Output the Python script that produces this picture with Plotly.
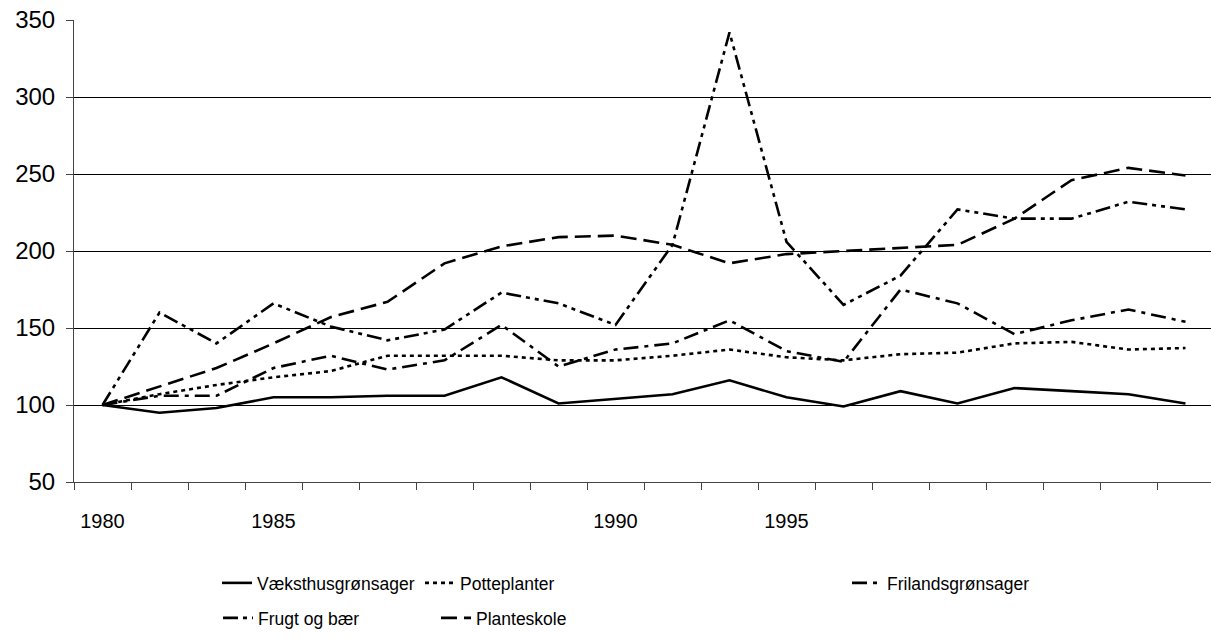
import numpy as np
import plotly.graph_objects as go

# Index numbers (1980 = 100), one value per period
x_labels = ["1980", "", "", "1985", "", "", "", "", "", "1990",
            "", "", "1995", "", "", "", "", "", "", ""]

vaeksthus = [100, 95, 98, 105, 105, 106, 106, 118, 101, 104,
             107, 116, 105, 99, 109, 101, 111, 109, 107, 101]
potteplanter = [100, 107, 113, 118, 122, 132, 132, 132, 129, 129,
                132, 136, 131, 129, 133, 134, 140, 141, 136, 137]
friland = [100, 106, 106, 124, 132, 123, 129, 152, 125, 136,
           140, 155, 135, 128, 175, 166, 146, 155, 162, 154]
frugt = [100, 160, 140, 166, 151, 142, 149, 173, 166, 152,
         204, 342, 206, 165, 184, 227, 221, 221, 232, 227]
planteskole = [100, 112, 124, 140, 157, 167, 192, 203, 209, 210,
               204, 192, 198, 200, 202, 204, 221, 246, 254, 249]

names = ["Væksthusgrønsager", "Potteplanter", "Frilandsgrønsager",
         "Frugt og bær", "Planteskole"]
series = [vaeksthus, potteplanter, friland, frugt, planteskole]
dashes = ["solid", "4px,4px", "15px,6px,4px,6px",
          "15px,5px,4px,5px,4px,5px", "16px,7px"]

FONT = "Liberation Sans, Arial, sans-serif"

W, H = 1211, 641
L, T, PH = 74, 20, 462
PW = W - L
# legend entries: where the text starts / row centre (pixels)
legend_px = [(257, 583), (460, 583), (887, 583), (258, 618), (476, 618)]

fig = go.Figure()
xpos = np.arange(len(x_labels))
for i, (name, vals) in enumerate(zip(names, series)):
    leg = "legend" if i == 0 else "legend%d" % (i + 1)
    fig.add_trace(go.Scatter(x=xpos, y=vals, mode="lines", name=name,
                             line=dict(color="black", width=2.6, dash=dashes[i]),
                             legend=leg))

layout_legends = {}
for i, (px, py) in enumerate(legend_px):
    key = "legend" if i == 0 else "legend%d" % (i + 1)
    lx = px - 40
    layout_legends[key] = dict(x=(lx - L) / PW, y=(T + PH - py) / PH,
                               xanchor="left", yanchor="middle",
                               bgcolor="rgba(0,0,0,0)",
                               font=dict(family=FONT, size=17.5, color="black"))

fig.update_layout(
    width=W, height=H,
    margin=dict(l=L, r=0, t=T, b=H - T - PH, autoexpand=False),
    paper_bgcolor="white", plot_bgcolor="white",
    showlegend=True,
    font=dict(family=FONT, size=20, color="black"),
    xaxis=dict(range=[-0.5, -0.5 + PW / 57.0],
               tickmode="array", tickvals=xpos, ticktext=x_labels,
               ticks="", showgrid=False, zeroline=False,
               showline=True, linecolor="#444", linewidth=1,
               tickfont=dict(size=20),
               ticklabelstandoff=21,
               minor=dict(ticks="outside", tick0=-0.5, dtick=1,
                          ticklen=7, tickcolor="#444", showgrid=False)),
    yaxis=dict(range=[50, 350], dtick=50, tick0=50,
               showgrid=True, gridcolor="black", gridwidth=1,
               zeroline=False, showline=True, linecolor="#444", linewidth=1,
               ticks="outside", ticklen=7, tickcolor="#444",
               tickfont=dict(size=24),
               ticklabeloverflow="allow",
               ticklabelstandoff=6),
    **layout_legends
)

# drop the browser's default 8px body margin so the figure fills the window
fig.write_html("out.html", config={"displayModeBar": False},
               post_script="document.body.style.margin='0';document.body.style.overflow='hidden';")
